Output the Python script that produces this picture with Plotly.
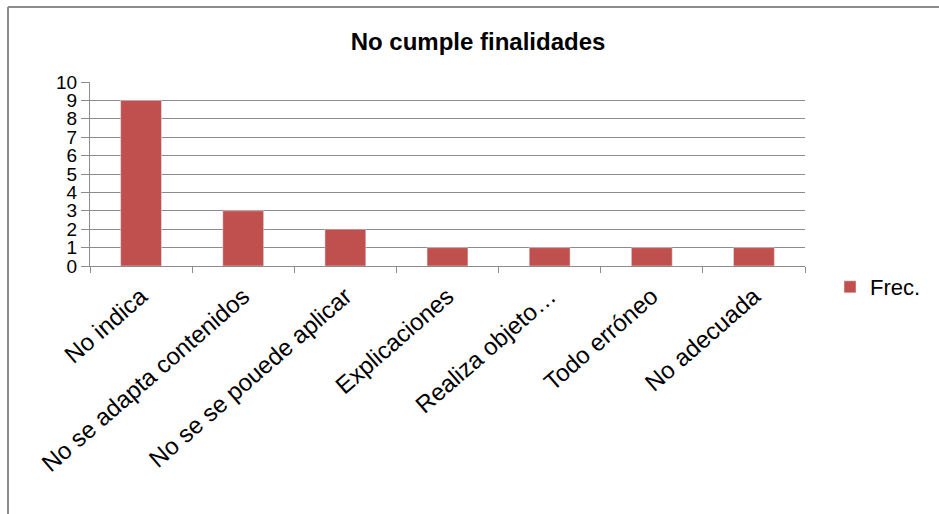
import plotly.graph_objects as go

categories = ["No indica", "No se adapta contenidos", "No se se pouede aplicar",
              "Explicaciones", "Realiza objeto…", "Todo erróneo", "No adecuada"]
frec = [9, 3, 2, 1, 1, 1, 1]
y_ticks = list(range(0, 11))

fig = go.Figure()
fig.add_trace(go.Bar(x=categories, y=frec, name="Frec.", marker_color="#C0504D",
                     width=0.4, showlegend=True))

font_family = "Liberation Sans, Arial, sans-serif"
L, R, T, B = 90, 805, 82, 266
pw, ph = R - L, B - T
fig.update_layout(
    width=939, height=514,
    margin=dict(l=L, r=939 - R, t=T, b=514 - B, autoexpand=False),
    paper_bgcolor="white", plot_bgcolor="white",
    font=dict(family=font_family, color="black"),
    title=dict(text="<b>No cumple finalidades</b>", x=(478) / 939, xanchor="center",
               y=1 - 42 / 514, yanchor="middle", font=dict(size=24, family=font_family)),
    showlegend=True,
    legend=dict(x=(830 - L) / pw, xanchor="left", y=(B - 287) / ph,
                yanchor="middle", bgcolor="rgba(0,0,0,0)",
                font=dict(size=22, family=font_family)),
)
fig.update_xaxes(type="category", tickangle=-41, tickfont=dict(size=24), automargin=False,
                 tickson="boundaries", ticks="outside", ticklen=6, tickcolor="#8c8c8c",
                 ticklabelstandoff=6,
                 showline=True, linecolor="#8c8c8c", linewidth=1, showgrid=False)
fig.update_yaxes(range=[0, 10], tickvals=y_ticks, tickfont=dict(size=19), automargin=False,
                 ticks="outside", ticklen=8, tickcolor="#8c8c8c",
                 showline=True, linecolor="#8c8c8c", linewidth=1,
                 showgrid=True, gridcolor="#8c8c8c", gridwidth=1, zeroline=False)

# outer frame (top and left edges visible)
fig.add_shape(type="line", xref="x domain", yref="y domain",
              x0=(8 - L) / pw, x1=(939 - L) / pw,
              y0=(B - 7) / ph, y1=(B - 7) / ph,
              line=dict(color="#8c8c8c", width=2))
fig.add_shape(type="line", xref="x domain", yref="y domain",
              x0=(8 - L) / pw, x1=(8 - L) / pw,
              y0=(B - 7) / ph, y1=(B - 514) / ph,
              line=dict(color="#8c8c8c", width=2))

fig.write_html("out.html", config={"displayModeBar": False},
               post_script="document.body.style.margin='0';")
